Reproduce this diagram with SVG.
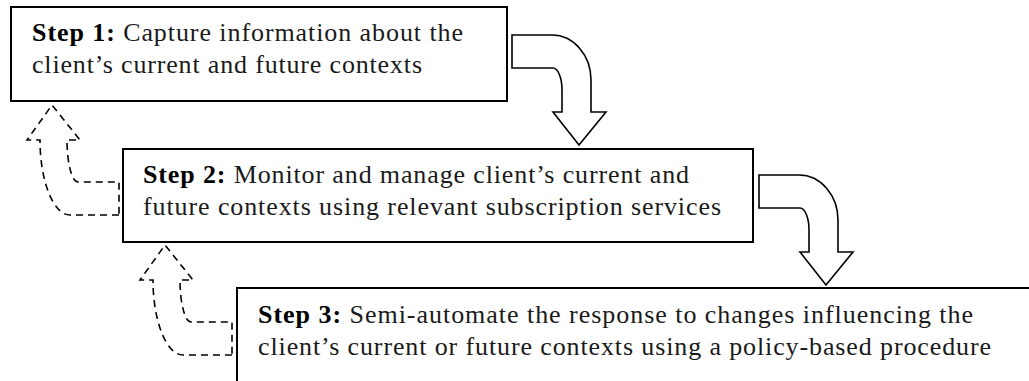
<svg xmlns="http://www.w3.org/2000/svg" width="1029" height="381" viewBox="0 0 1029 381">
<style>
.box{fill:#fff;stroke:#000;stroke-width:2}
.t{font-family:"Liberation Serif",serif;font-size:26px;fill:#1a1a1a}
.b{font-weight:bold;fill:#000}
.bent{fill:#fff;stroke:#000;stroke-width:1.6;stroke-linejoin:miter}
.dash{fill:none;stroke:#000;stroke-width:1.6;stroke-dasharray:7,5}
</style>
<rect width="1029" height="381" fill="#fff"/>
<g id="connectors">
<path class="bent" d="M512,35 H552 A39,45 0 0 1 591,80 V112 H606 L579,145 L553,112 H562 V90 A9,22 0 0 0 553,68 H512 Z"/>
<path class="bent" d="M759,175 H799 A39,45 0 0 1 838,220 V252 H853 L826,285 L800,252 H809 V230 A9,22 0 0 0 800,208 H759 Z"/>
<path class="dash" d="M119,215 H70 A30,75 0 0 1 40,140 H27 L52,105 L80,140 H67 A11,42 0 0 0 78,182 H119 Z"/>
<path class="dash" d="M232,355 H183 A30,75 0 0 1 153,280 H140 L165,245 L193,280 H180 A11,42 0 0 0 191,322 H232 Z"/>
</g>
<g id="step1">
<rect class="box" x="11" y="7" width="496" height="94"/>
<text class="t" x="32" y="41" textLength="431" lengthAdjust="spacing"><tspan class="b">Step 1:</tspan> Capture information about the</text>
<text class="t" x="32" y="73" textLength="390" lengthAdjust="spacing">client’s current and future contexts</text>
</g>
<g id="step2">
<rect class="box" x="123" y="149" width="630" height="93"/>
<text class="t" x="143" y="183" textLength="546" lengthAdjust="spacing"><tspan class="b">Step 2:</tspan> Monitor and manage client’s current and</text>
<text class="t" x="143" y="215" textLength="578" lengthAdjust="spacing">future contexts using relevant subscription services</text>
</g>
<g id="step3">
<rect class="box" x="237" y="288" width="800" height="100"/>
<text class="t" x="258" y="323" textLength="715" lengthAdjust="spacing"><tspan class="b">Step 3:</tspan> Semi-automate the response to changes influencing the</text>
<text class="t" x="258" y="355" textLength="733" lengthAdjust="spacing">client’s current or future contexts using a policy-based procedure</text>
</g>
</svg>
